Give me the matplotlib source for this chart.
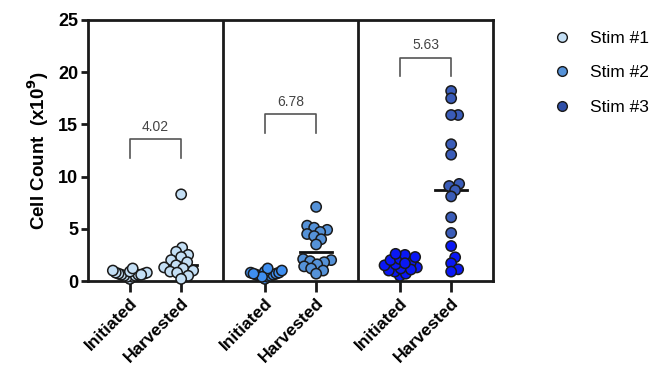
import numpy as np
import matplotlib.pyplot as plt
from matplotlib.lines import Line2D

plt.rcParams['font.family'] = ['Liberation Sans', 'DejaVu Sans']

stims = ['Stim #1', 'Stim #2', 'Stim #3']
groups = ['Initiated', 'Harvested']
ratios = ['4.02', '6.78', '5.63']
bracket_y = [13.6, 16.0, 21.4]

init_1 = [0.2, 0.4, 0.4, 0.5, 0.5, 0.6, 0.6, 0.7, 0.7, 0.8, 0.8, 0.9, 1.0, 1.2, 0.6]
harv_1 = [8.3, 3.2, 2.8, 2.5, 2.3, 2.0, 1.8, 1.5, 1.3, 1.2, 1.0, 0.9, 0.8, 0.5, 0.2]
init_2 = [0.2, 0.4, 0.5, 0.5, 0.6, 0.6, 0.7, 0.8, 0.8, 0.9, 1.0, 1.2, 0.4, 0.7]
harv_2 = [7.1, 5.3, 5.1, 4.9, 4.7, 4.5, 4.3, 4.0, 3.5,
          2.1, 2.0, 1.9, 1.8, 1.6, 1.4, 1.2, 1.0, 0.7]
init_3 = [0.5, 0.7, 0.9, 1.0, 1.2, 1.3, 1.5, 1.6, 1.8, 2.0, 2.1, 2.3, 2.5, 2.6, 1.1, 1.7]
harv_3 = [18.2, 17.5, 15.9, 15.9, 13.1, 12.1, 9.3, 9.1, 8.7, 8.1, 6.1, 4.6,
          3.35, 2.27, 1.7, 1.12, 0.9]

data = [[init_1, harv_1], [init_2, harv_2], [init_3, harv_3]]

# colours: [initiated, harvested] per stim; stim 3 harvested low points are bright
colors = [['#c4dff5', '#c4dff5'], ['#3f8ff0', '#5592d8'], ['#0a18f5', '#3a5cb8']]
legend_colors = ['#c4dff5', '#5592d8', '#2f4fa8']
bright_cut = 4.0

px_x = 135.0   # pixels per x unit
px_y = 10.44   # pixels per y unit


def swarm(vals, d=7.0, max_half=17.0):
    order = np.argsort(vals)
    placed = []
    offs = np.zeros(len(vals))
    for i in order:
        y = vals[i] * px_y
        cand = 0.0
        ok = False
        for k in range(0, 80):
            for sgn in ([0] if k == 0 else [1, -1]):
                cand = sgn * k * 1.0
                ok = all((cand - ox) ** 2 + (y - oy) ** 2 >= d * d for ox, oy in placed)
                if ok:
                    break
            if ok:
                break
        placed.append((cand, y))
        offs[i] = cand
    spread = np.abs(offs).max()
    if spread > max_half:
        offs = offs * max_half / spread
    return offs / px_x


fig = plt.figure(figsize=(6.61, 3.74), dpi=100)
ax = fig.add_axes([88 / 661, 1 - 281 / 374, 405 / 661, 261 / 374])

pos = [0.31, 0.69]
ticks, labels = [], []
for s in range(3):
    for g in range(2):
        xc = s + pos[g]
        ticks.append(xc)
        labels.append(groups[g])
        vals = np.array(data[s][g])
        offs = swarm(vals)
        fc = [colors[s][g]] * len(vals)
        if s == 2 and g == 1:
            fc = ['#0a18f5' if v < bright_cut else colors[s][g] for v in vals]
        ax.scatter(xc + offs, vals, s=55, c=fc, edgecolors='#1a1a1a',
                   linewidths=1.1, zorder=3, clip_on=False)
        med = np.median(vals)
        ax.plot([xc - 0.12, xc + 0.12], [med, med], color='#111111', lw=2, zorder=2.5)
    # bracket
    x0, x1 = s + pos[0], s + pos[1]
    by = bracket_y[s]
    ax.plot([x0, x0, x1, x1], [by - 1.8, by, by, by - 1.8], color='#555555', lw=1.2)
    ax.text((x0 + x1) / 2, by + 0.5, ratios[s], ha='center', va='bottom',
            fontsize=10, color='#444444')

for xv in [1, 2]:
    ax.axvline(xv, color='#1a1a1a', lw=2, zorder=2)

ax.set_xlim(0, 3)
ax.set_ylim(0, 25)
ax.set_yticks([0, 5, 10, 15, 20, 25])
ax.set_xticks(ticks)
ax.set_xticklabels(labels, rotation=45, ha='right', rotation_mode='anchor',
                   fontsize=12.5, fontweight='bold')
for lab in ax.get_yticklabels():
    lab.set_fontsize(13)
    lab.set_fontweight('bold')
for sp in ax.spines.values():
    sp.set_linewidth(2)
    sp.set_color('#1a1a1a')
ax.tick_params(axis='x', length=8, width=2, color='#1a1a1a', pad=2)
ax.tick_params(axis='y', length=5, width=2, color='#1a1a1a', pad=2)
ax.set_ylabel('Cell Count  (x10$^{\\mathbf{9}}$)', fontsize=13.5, fontweight='bold', labelpad=5)

handles = [Line2D([], [], marker='o', ls='none', markersize=7, markerfacecolor=c,
                  markeredgecolor='#1a1a1a', markeredgewidth=1.0) for c in legend_colors]
fig.legend(handles, stims, loc='upper left', bbox_to_anchor=(546 / 661, 1 - 24 / 374),
           frameon=False, fontsize=12.5, labelspacing=1.1, handlelength=1.0,
           handletextpad=1.13, borderaxespad=0)

fig.savefig('out.png', dpi=100)
